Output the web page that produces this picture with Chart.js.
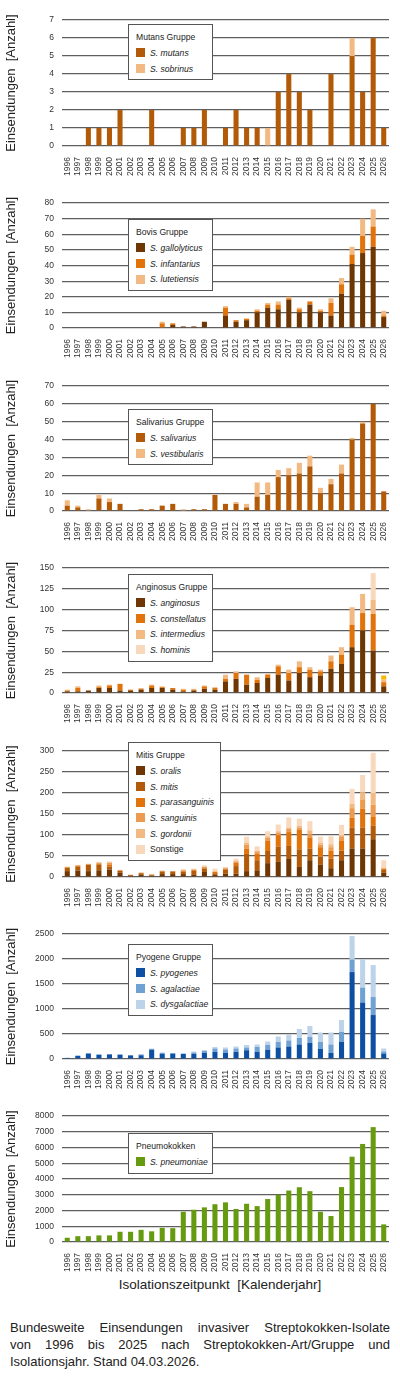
<!DOCTYPE html>
<html>
<head>
<meta charset="utf-8">
<script src="https://cdn.jsdelivr.net/npm/chart.js@4.4.1/dist/chart.umd.min.js"></script>
<style>
body { margin: 0; width: 400px; height: 1377px; position: relative; background: #fff; font-family: "Liberation Sans", Arial, sans-serif; color: #222; overflow: hidden; }
.panel { position: absolute; left: 0; }
.leg { position: absolute; left: 128px; background: #fff; border: 1px solid #555; padding: 5px 4px 3px 7px; font-size: 8.6px; box-sizing: border-box; white-space: nowrap; }
.leg .t { height: 15px; line-height: 15px; }
.leg .r { height: 15.7px; display: flex; align-items: center; }
.leg .s { width: 9px; height: 9px; margin-right: 5px; flex: none; }
#xt { position: absolute; top: 1277px; left: 20px; width: 400px; text-align: center; font-size: 13.5px; }
#cap { position: absolute; top: 1319px; left: 10px; width: 380px; font-size: 13px; line-height: 17px; }
#cap .j { text-align: justify; text-align-last: justify; }
</style>
</head>
<body>
<div id="xt">Isolationszeitpunkt&nbsp; [Kalenderjahr]</div>
<div id="cap">
  <div class="j">Bundesweite Einsendungen invasiver Streptokokken-Isolate</div>
  <div class="j">von 1996 bis 2025 nach Streptokokken-Art/Gruppe und</div>
  <div>Isolationsjahr. Stand 04.03.2026.</div>
</div>
<script>
const years = ['1996','1997','1998','1999','2000','2001','2002','2003','2004','2005','2006','2007','2008','2009','2010',
  '2011','2012','2013','2014','2015','2016','2017','2018','2019','2020','2021','2022','2023','2024','2025','2026'];

// Mutans Gruppe
const mutans   = [0,0,1,1,1,2,0,0,2,0,0,1,1,2,0,1,2,1,1,0,3,4,3,2,0,4,0,5,3,6,1];
const sobrinus = [0,0,0,0,0,0,0,0,0,0,0,0,0,0,0,0,0,0,0,1,0,0,0,0,0,0,0,1,0,0,0];

// Bovis Gruppe
const gallolyticus = [0,0,0,0,0,0,0,0,0,0,2,1,1,4,0,8,4,5,10,13,12,18,10,15,10,8,22,41,48,52,7];
const infantarius  = [0,0,0,0,0,0,0,0,0,3,1,0,0,0,0,5,1,1,1,2,3,1,2,2,1,8,6,6,11,13,1];
const lutetiensis  = [0,0,0,0,0,0,0,0,0,1,0,0,0,0,0,1,0,0,1,1,2,1,1,0,1,3,4,5,11,11,3];

// Salivarius Gruppe
const salivarius   = [3,2,0,7,5,4,0,1,1,3,4,0,1,1,9,4,4,2,8,9,19,20,21,25,10,15,21,40,49,60,11];
const vestibularis = [3,1,1,2,2,0,0,0,0,0,0,1,0,0,0,0,1,2,8,7,4,4,6,6,3,3,5,1,1,0,0];

// Anginosus Gruppe
const anginosus    = [2,2,3,6,6,3,3,4,6,6,4,2,3,5,4,14,17,10,12,18,22,15,24,19,21,29,35,55,75,51,8];
const constellatus = [1,4,0,1,3,8,1,1,3,1,2,2,1,3,2,3,7,12,4,4,10,9,7,9,5,9,11,27,21,44,5];
const intermedius  = [1,2,0,2,1,0,0,1,1,1,0,1,1,1,1,5,2,0,3,1,2,4,7,3,2,7,9,21,23,17,3];
const hominis      = [0,0,0,0,0,0,0,0,0,0,0,0,0,0,0,0,0,0,0,0,0,0,0,0,0,0,0,0,0,32,0];
const anginosusRest = [0,0,0,0,0,0,0,0,0,0,0,0,0,0,0,0,0,0,0,0,0,0,0,0,0,0,0,0,0,0,5];

// Mitis Gruppe
const oralis        = [14,15,14,16,18,10,3,5,3,7,7,7,5,12,5,8,8,14,16,33,36,43,24,40,29,21,40,68,68,90,10];
const mitis         = [8,10,15,13,7,5,2,4,2,6,6,6,10,8,4,10,18,41,24,29,36,31,42,28,20,23,23,50,50,32,7];
const parasanguinis = [1,2,1,3,5,1,0,1,1,1,1,2,2,3,3,2,8,13,15,25,28,33,46,25,22,19,23,23,45,21,2];
const sanguinis     = [1,1,1,2,4,0,0,0,0,1,0,1,1,1,1,1,3,9,6,6,5,8,6,8,6,8,11,23,22,29,2];
const gordonii      = [0,0,0,1,1,0,0,0,0,0,0,0,0,1,1,0,2,5,2,4,4,3,4,10,5,7,3,11,17,28,1];
const mitisSonstige = [1,1,1,1,2,1,1,1,0,0,0,3,2,3,6,3,5,14,10,12,16,24,17,22,14,19,24,35,41,96,18];

// Pyogene Gruppe
const pyogenes     = [20,60,100,80,90,80,70,75,180,100,100,100,100,120,140,120,140,175,145,185,230,250,290,320,200,120,340,1740,1130,880,110];
const agalactiae   = [5,10,20,15,10,15,10,15,20,25,20,10,30,40,70,70,70,55,95,95,110,120,130,120,140,170,200,250,300,360,40];
const dysgalactiae = [0,0,0,0,0,0,0,10,10,5,0,0,20,20,30,40,40,50,50,70,110,120,180,220,190,240,240,470,570,640,60];

// Pneumokokken
const pneumoniae = [270,370,370,420,420,650,650,770,680,900,880,1920,2050,2200,2400,2520,2100,2430,2280,2730,3000,3270,3480,3230,1920,1650,3490,5420,6230,7300,1120];

// y axis ranges
const yMax  = [7, 80, 70, 150, 300, 2500, 8000];
const yStep = [1, 10, 10, 25, 50, 500, 1000];

const dark = '#6e3602', rust = '#b25a08', orange = '#e2730a', mid = '#ec9b50', light = '#f2b983', pale = '#f8d9bd';

Chart.defaults.font.family = '"Liberation Sans", Arial, sans-serif';

const panels = [
  { grid: 13, zero: 146, legTop: 24, legW: 85, title: 'Mutans Gruppe',
    series: [{name: 'S. mutans', data: mutans, color: rust}, {name: 'S. sobrinus', data: sobrinus, color: light}] },
  { grid: 196, zero: 328, legTop: 219, legW: 85, title: 'Bovis Gruppe',
    series: [{name: 'S. gallolyticus', data: gallolyticus, color: dark}, {name: 'S. infantarius', data: infantarius, color: orange},
             {name: 'S. lutetiensis', data: lutetiensis, color: light}] },
  { grid: 379, zero: 511, legTop: 409, legW: 85, title: 'Salivarius Gruppe',
    series: [{name: 'S. salivarius', data: salivarius, color: rust}, {name: 'S. vestibularis', data: vestibularis, color: light}] },
  { grid: 561, zero: 693, legTop: 574, legW: 85, title: 'Anginosus Gruppe',
    series: [{name: 'S. anginosus', data: anginosus, color: dark}, {name: 'S. constellatus', data: constellatus, color: orange},
             {name: 'S. intermedius', data: intermedius, color: light}, {name: 'S. hominis', data: hominis, color: pale},
             {name: '', data: anginosusRest, color: '#f5b800'}] },
  { grid: 744, zero: 877, legTop: 742, legW: 93, title: 'Mitis Gruppe',
    series: [{name: 'S. oralis', data: oralis, color: dark}, {name: 'S. mitis', data: mitis, color: rust},
             {name: 'S. parasanguinis', data: parasanguinis, color: orange}, {name: 'S. sanguinis', data: sanguinis, color: mid},
             {name: 'S. gordonii', data: gordonii, color: light}, {name: 'Sonstige', data: mitisSonstige, color: pale, plain: true}] },
  { grid: 927, zero: 1059, legTop: 944, legW: 85, title: 'Pyogene Gruppe',
    series: [{name: 'S. pyogenes', data: pyogenes, color: '#0d4fa3'}, {name: 'S. agalactiae', data: agalactiae, color: '#6fa1d2'},
             {name: 'S. dysgalactiae', data: dysgalactiae, color: '#bcd3ea'}] },
  { grid: 1109, zero: 1242, legTop: 1133, legW: 85, title: 'Pneumokokken',
    series: [{name: 'S. pneumoniae', data: pneumoniae, color: '#679b0f'}] }
];

panels.forEach(function(p, i) {
  var wrap = document.createElement('div');
  wrap.className = 'panel';
  wrap.style.top = (p.grid - 6) + 'px';
  var cv = document.createElement('canvas');
  cv.width = 400;
  cv.height = 6 + (p.zero - p.grid) + 32;
  wrap.appendChild(cv);
  document.body.appendChild(wrap);

  new Chart(cv, {
    type: 'bar',
    data: {
      labels: years,
      datasets: p.series.map(function(s) {
        return { label: s.name, data: s.data, backgroundColor: s.color, barPercentage: 0.48, categoryPercentage: 1 };
      })
    },
    options: {
      responsive: false,
      animation: false,
      layout: { padding: { top: 6, right: 11, left: 0, bottom: 0 } },
      plugins: { legend: { display: false }, tooltip: { enabled: false } },
      scales: {
        x: {
          stacked: true,
          grid: { display: false },
          border: { display: false },
          ticks: { minRotation: 90, maxRotation: 90, autoSkip: false, padding: 3, color: '#333', font: { size: 8.5 } },
          afterFit: function(s) { s.height = 32; }
        },
        y: {
          stacked: true, min: 0, max: yMax[i],
          ticks: { stepSize: yStep[i], padding: 8, color: '#333', font: { size: 8.5 },
                   callback: function(v) { return String(v); } },
          grid: { color: '#5f5f5f', lineWidth: 1.3, drawTicks: false },
          border: { display: false },
          title: { display: true, text: 'Einsendungen  [Anzahl]', color: '#222', font: { size: 13 }, padding: { top: 4, bottom: 0 } },
          afterFit: function(s) { s.width = 62; }
        }
      }
    }
  });

  // legend box inside the plot
  var leg = document.createElement('div');
  leg.className = 'leg';
  leg.style.top = p.legTop + 'px';
  leg.style.width = p.legW + 'px';
  var html = '<div class="t">' + p.title + '</div>';
  p.series.forEach(function(s) {
    if (!s.name) return;
    html += '<div class="r"><span class="s" style="background:' + s.color + '"></span>' +
      (s.plain ? s.name : '<i>' + s.name + '</i>') + '</div>';
  });
  leg.innerHTML = html;
  document.body.appendChild(leg);
});
</script>
</body>
</html>
